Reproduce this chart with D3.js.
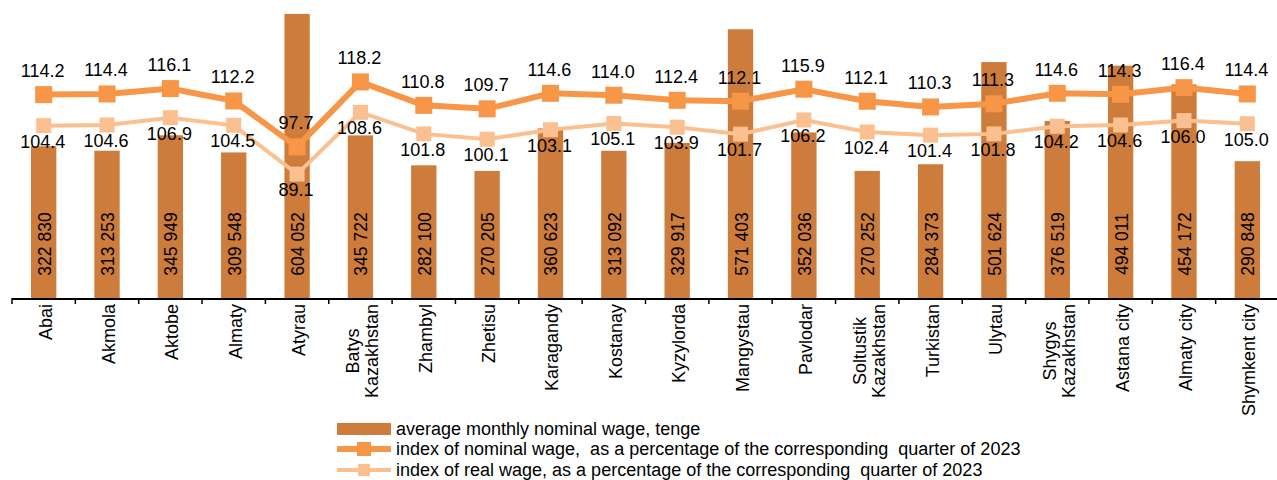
<!DOCTYPE html>
<html>
<head>
<meta charset="utf-8">
<script src="https://cdn.jsdelivr.net/npm/d3@7"></script>
<style>
  body { margin: 0; background: #fff; }
  svg { display: block; font-family: "Liberation Sans", Arial, sans-serif; }
</style>
</head>
<body>
<div id="container"></div>
<script>
// data
const regions = ["Abai", "Akmola", "Aktobe", "Almaty", "Atyrau", "Batys\nKazakhstan", "Zhambyl",
  "Zhetisu", "Karagandy", "Kostanay", "Kyzylorda", "Mangystau", "Pavlodar", "Soltustik\nKazakhstan",
  "Turkistan", "Ulytau", "Shygys\nKazakhstan", "Astana city", "Almaty city", "Shymkent city"];
const wages = [322830, 313253, 345949, 309548, 604052, 345722, 282100, 270205, 360623, 313092,
  329917, 571403, 352036, 270252, 284373, 501624, 376519, 494011, 454172, 290848];
const nominalIdx = [114.2, 114.4, 116.1, 112.2, 97.7, 118.2, 110.8, 109.7, 114.6, 114.0,
  112.4, 112.1, 115.9, 112.1, 110.3, 111.3, 114.6, 114.3, 116.4, 114.4];
const realIdx = [104.4, 104.6, 106.9, 104.5, 89.1, 108.6, 101.8, 100.1, 103.1, 105.1,
  103.9, 101.7, 106.2, 102.4, 101.4, 101.8, 104.2, 104.6, 106.0, 105.0];
const legendLabels = ["average monthly nominal wage, tenge",
  "index of nominal wage,  as a percentage of the corresponding  quarter of 2023",
  "index of real wage, as a percentage of the corresponding  quarter of 2023"];

const width = 1277, height = 480;
const base = 298;
const barColor = "#cd7c3b", nomColor = "#f79646", realColor = "#fac090";
const fs = "18px";

const svg = d3.select("#container").append("svg")
  .attr("width", width).attr("height", height);

const x = d3.scaleBand().domain(regions).range([12, 1279]).padding(0);
const bw = x.bandwidth() * 0.4;
const cx = d => x(d) + x.bandwidth() / 2;

const y = d3.scaleLinear().domain([0, 640000]).range([base, -3]);
const y2 = d3.scaleLinear().domain([50, 145]).range([base, -3]);

const fmt = v => d3.format(",")(v).replace(/,/g, " ");

// bars
svg.selectAll("rect.bar")
  .data(regions)
  .join("rect")
  .attr("class", "bar")
  .attr("x", d => cx(d) - bw / 2)
  .attr("width", bw)
  .attr("y", (d, i) => y(wages[i]))
  .attr("height", (d, i) => base - y(wages[i]))
  .attr("fill", barColor);

// values inside bars
svg.selectAll("text.wage")
  .data(regions)
  .join("text")
  .attr("class", "wage")
  .attr("transform", d => `translate(${cx(d) + 1},244) rotate(-90)`)
  .attr("text-anchor", "middle")
  .attr("dominant-baseline", "central")
  .style("font-size", "17.5px")
  .attr("fill", "#000")
  .text((d, i) => fmt(wages[i]));

// x axis
svg.append("line")
  .attr("x1", 12).attr("x2", width)
  .attr("y1", base + 1).attr("y2", base + 1)
  .attr("stroke", "#000").attr("stroke-width", 2);

svg.selectAll("line.tick")
  .data(regions)
  .join("line")
  .attr("class", "tick")
  .attr("x1", d => x(d)).attr("x2", d => x(d))
  .attr("y1", base).attr("y2", base + 6)
  .attr("stroke", "#000").attr("stroke-width", 1.5);

const labs = svg.selectAll("text.cat")
  .data(regions)
  .join("text")
  .attr("class", "cat")
  .style("font-size", fs)
  .attr("text-anchor", "middle")
  .attr("fill", "#000");

labs.each(function(d) {
  const t = d3.select(this);
  const lines = d.split("\n");
  const n = lines.length;
  lines.forEach((ln, j) => {
    t.append("tspan")
      .attr("x", 0)
      .attr("y", (j - (n - 1) / 2) * 19)
      .attr("dominant-baseline", "central")
      .text(ln);
  });
  let maxLen = 0;
  t.selectAll("tspan").each(function() {
    maxLen = Math.max(maxLen, this.getComputedTextLength());
  });
  t.selectAll("tspan").attr("x", -maxLen / 2);
  t.attr("transform", `translate(${cx(d) + 2},304) rotate(-90)`);
});

// lines
const lineGen = arr => d3.line()
  .x(d => cx(d))
  .y((d, i) => y2(arr[i]));

svg.append("path")
  .datum(regions)
  .attr("d", lineGen(realIdx))
  .attr("fill", "none")
  .attr("stroke", realColor)
  .attr("stroke-width", 4);

svg.selectAll("rect.realm")
  .data(regions)
  .join("rect")
  .attr("class", "realm")
  .attr("x", d => cx(d) - 7.5)
  .attr("y", (d, i) => y2(realIdx[i]) - 7.5)
  .attr("width", 15).attr("height", 15)
  .attr("fill", realColor);

svg.append("path")
  .datum(regions)
  .attr("d", lineGen(nominalIdx))
  .attr("fill", "none")
  .attr("stroke", nomColor)
  .attr("stroke-width", 6);

svg.selectAll("rect.nomm")
  .data(regions)
  .join("rect")
  .attr("class", "nomm")
  .attr("x", d => cx(d) - 8.5)
  .attr("y", (d, i) => y2(nominalIdx[i]) - 8.5)
  .attr("width", 17).attr("height", 17)
  .attr("fill", nomColor);

// index labels
svg.selectAll("text.nomv")
  .data(regions)
  .join("text")
  .attr("class", "nomv")
  .attr("x", d => cx(d) - 1)
  .attr("y", (d, i) => y2(nominalIdx[i]) - 17.5)
  .attr("text-anchor", "middle")
  .style("font-size", fs)
  .text((d, i) => nominalIdx[i].toFixed(1));

svg.selectAll("text.realv")
  .data(regions)
  .join("text")
  .attr("class", "realv")
  .attr("x", d => cx(d) - 1)
  .attr("y", (d, i) => y2(realIdx[i]) + 22)
  .attr("text-anchor", "middle")
  .style("font-size", fs)
  .text((d, i) => realIdx[i].toFixed(1));

// legend
const lg = svg.append("g").attr("transform", "translate(337,0)");
const rowY = [429, 449, 470];

lg.append("rect")
  .attr("x", 0).attr("y", rowY[0] - 6)
  .attr("width", 54).attr("height", 12)
  .attr("fill", barColor);

[[nomColor, 6, 14], [realColor, 4, 12]].forEach(([c, sw, ms], k) => {
  const yy = rowY[k + 1];
  lg.append("line")
    .attr("x1", 0).attr("x2", 54)
    .attr("y1", yy).attr("y2", yy)
    .attr("stroke", c).attr("stroke-width", sw);
  lg.append("rect")
    .attr("x", 27 - ms / 2).attr("y", yy - ms / 2)
    .attr("width", ms).attr("height", ms)
    .attr("fill", c);
});

lg.selectAll("text.leg")
  .data(legendLabels)
  .join("text")
  .attr("class", "leg")
  .attr("x", 59)
  .attr("y", (d, i) => rowY[i])
  .attr("dominant-baseline", "central")
  .style("font-size", fs)
  .style("white-space", "pre")
  .text(d => d);
</script>
</body>
</html>
